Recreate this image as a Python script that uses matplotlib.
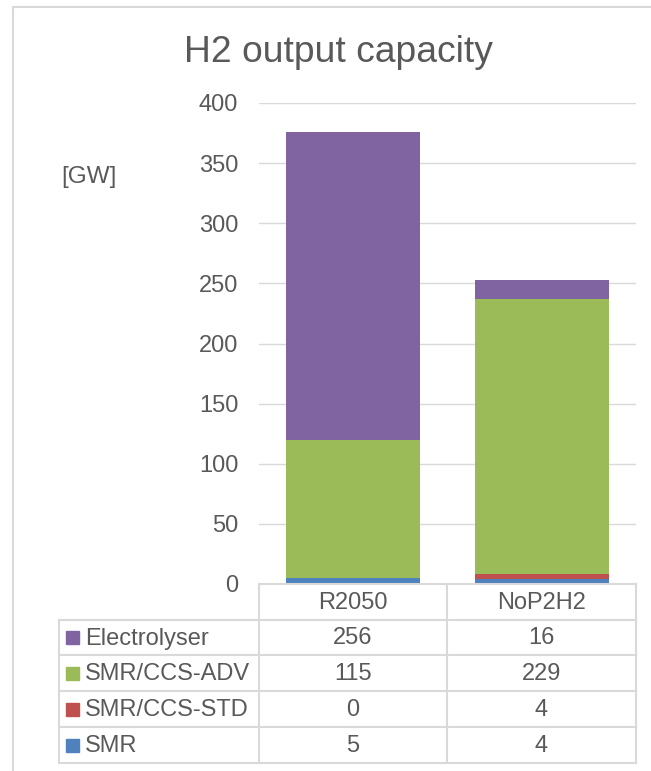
import matplotlib
matplotlib.use("Agg")
import matplotlib.pyplot as plt
from matplotlib.patches import Rectangle
import numpy as np

plt.rcParams['font.family'] = ['Liberation Sans', 'DejaVu Sans']

# Data
scenarios = ["R2050", "NoP2H2"]
series_names = ["Electrolyser", "SMR/CCS-ADV", "SMR/CCS-STD", "SMR"]
electrolyser = [256, 16]
smr_ccs_adv = [115, 229]
smr_ccs_std = [0, 4]
smr = [5, 4]
colors = {"Electrolyser": "#8064A2", "SMR/CCS-ADV": "#9BBB59",
          "SMR/CCS-STD": "#C0504D", "SMR": "#4F81BD"}
yticks = [0, 50, 100, 150, 200, 250, 300, 350, 400]

values = {"Electrolyser": electrolyser, "SMR/CCS-ADV": smr_ccs_adv,
          "SMR/CCS-STD": smr_ccs_std, "SMR": smr}

W, H = 651, 771
DPI = 100
TEXT = "#595959"
GRID = "#D9D9D9"

fig = plt.figure(figsize=(W / DPI, H / DPI), dpi=DPI)
fig.patch.set_facecolor("white")

# Plot area (pixel extents converted to figure fractions)
px_left, px_right, px_top, px_bottom = 259, 636, 103, 584
ax = fig.add_axes([px_left / W, 1 - px_bottom / H,
                   (px_right - px_left) / W, (px_bottom - px_top) / H])
x = np.arange(len(scenarios))
bottom = np.zeros(len(scenarios))
for name in ["SMR", "SMR/CCS-STD", "SMR/CCS-ADV", "Electrolyser"]:
    v = np.array(values[name], dtype=float)
    ax.bar(x, v, width=0.71, bottom=bottom, color=colors[name], zorder=3)
    bottom += v

ax.set_xlim(-0.5, len(scenarios) - 0.5)
ax.set_ylim(0, 400)
ax.set_yticks(yticks)
ax.set_yticklabels([str(t) for t in yticks], fontsize=17, color=TEXT)
ax.tick_params(axis="y", length=0, pad=15)
ax.set_xticks([])
for s in ax.spines.values():
    s.set_visible(False)
for t in yticks[1:]:
    ax.axhline(t, color=GRID, lw=1.0, zorder=1)

# Overlay in pixel coordinates for title, unit label, table and frame
ov = fig.add_axes([0, 0, 1, 1], zorder=5)
ov.set_xlim(0, W)
ov.set_ylim(H, 0)
ov.axis("off")
ov.patch.set_alpha(0)

# Chart frame
ov.plot([13, 13], [7, H + 5], color=GRID, lw=1.5)
ov.plot([13, W + 5], [7, 7], color=GRID, lw=1.5)

ov.text(338, 52, "H2 output capacity", fontsize=26.8, color=TEXT,
        ha="center", va="center")
ov.text(89, 177, "[GW]", fontsize=17.5, color=TEXT, ha="center", va="center")

# Data table
col_edges = [259, 447, 636]
row_edges = [584, 620, 655, 691, 727, 763]
label_left = 59
lc = GRID
lw = 1.5
ov.plot([col_edges[0], col_edges[-1]], [row_edges[0], row_edges[0]], color=lc, lw=lw)
for yy in row_edges[1:]:
    ov.plot([label_left, col_edges[-1]], [yy, yy], color=lc, lw=lw)
for xx in col_edges:
    ov.plot([xx, xx], [row_edges[0], row_edges[-1]], color=lc, lw=lw)
ov.plot([label_left, label_left], [row_edges[1], row_edges[-1]], color=lc, lw=lw)

for j, sc in enumerate(scenarios):
    cx = (col_edges[j] + col_edges[j + 1]) / 2
    ov.text(cx, (row_edges[0] + row_edges[1]) / 2 + 1, sc, fontsize=17,
            color=TEXT, ha="center", va="center")

for i, name in enumerate(series_names):
    cy = (row_edges[i + 1] + row_edges[i + 2]) / 2
    ov.add_patch(Rectangle((66, cy - 6.5), 13, 13, color=colors[name]))
    ov.text(85, cy + 1, name, fontsize=17, color=TEXT, ha="left", va="center")
    for j in range(len(scenarios)):
        cx = (col_edges[j] + col_edges[j + 1]) / 2
        ov.text(cx, cy + 1, str(values[name][j]), fontsize=17, color=TEXT,
                ha="center", va="center")

fig.savefig("out.png", dpi=DPI)
